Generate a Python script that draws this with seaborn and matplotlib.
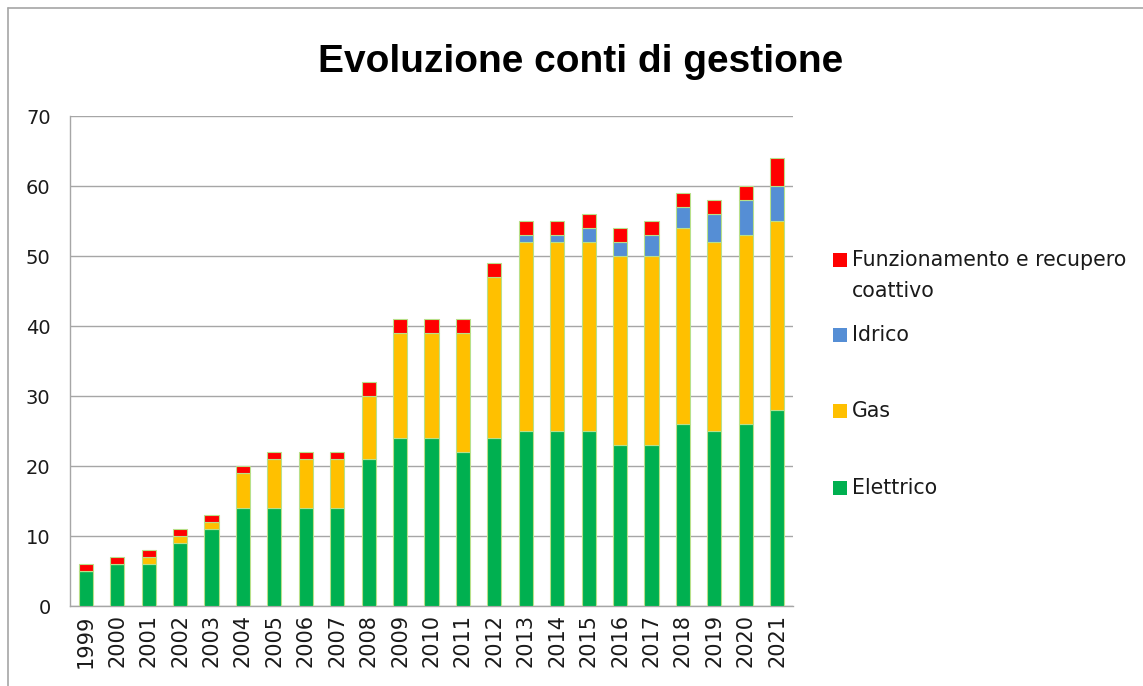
import matplotlib
matplotlib.use("Agg")
import matplotlib.pyplot as plt
import matplotlib.patches as mpatches
import numpy as np
import pandas as pd
import seaborn as sns

# data
years = [str(y) for y in range(1999, 2022)]
elettrico = [5, 6, 6, 9, 11, 14, 14, 14, 14, 21, 24, 24, 22, 24, 25, 25, 25, 23, 23, 26, 25, 26, 28]
gas = [0, 0, 1, 1, 1, 5, 7, 7, 7, 9, 15, 15, 17, 23, 27, 27, 27, 27, 27, 28, 27, 27, 27]
idrico = [0, 0, 0, 0, 0, 0, 0, 0, 0, 0, 0, 0, 0, 0, 1, 1, 2, 2, 3, 3, 4, 5, 5]
funzionamento = [1, 1, 1, 1, 1, 1, 1, 1, 1, 2, 2, 2, 2, 2, 2, 2, 2, 2, 2, 2, 2, 2, 4]

series = ["Elettrico", "Gas", "Idrico", "Funzionamento e recupero coattivo"]
colors = ["#00B050", "#FFC000", "#558ED5", "#FF0000"]

df = pd.DataFrame({"anno": years, "Elettrico": elettrico, "Gas": gas,
                   "Idrico": idrico, "Funzionamento e recupero coattivo": funzionamento})

sns.set_style("white")
plt.rcParams["font.family"] = ["DejaVu Sans"]
plt.rcParams["text.color"] = "#1a1a1a"
plt.rcParams["xtick.color"] = "#1a1a1a"
plt.rcParams["ytick.color"] = "#1a1a1a"

W, H = 1143, 686
fig = plt.figure(figsize=(W / 100, H / 100), dpi=100)
ax = fig.add_axes([70 / W, 1 - 606 / H, (793 - 70) / W, (606 - 116) / H])

bottom = np.zeros(len(years))
for name, color in zip(series, colors):
    sns.barplot(data=df, x="anno", y=name, color=color, bottom=bottom, width=0.45,
                ax=ax, edgecolor="#B8E08A", linewidth=0.8, zorder=3, saturation=1)
    bottom += df[name].values

ax.set_ylim(0, 70)
ax.set_xlim(-0.5, len(years) - 0.5)
ax.set_yticks(range(0, 71, 10))
ax.set_xlabel("")
ax.set_ylabel("")
ax.yaxis.grid(True, color="#A6A6A6", linewidth=1, zorder=0)
ax.xaxis.grid(False)
for s in ["top", "right"]:
    ax.spines[s].set_visible(False)
for s in ["left", "bottom"]:
    ax.spines[s].set_color("#A6A6A6")
    ax.spines[s].set_linewidth(1)

# Excel-style ticks between categories
ax.set_xticks(np.arange(-0.5, len(years), 1), minor=True)
ax.tick_params(axis="x", which="major", length=0, labelsize=15, rotation=90, pad=6)
ax.tick_params(axis="x", which="minor", length=7, color="#A6A6A6", direction="out")
ax.tick_params(axis="y", length=6, color="#A6A6A6", direction="out", labelsize=14, pad=8)

fig.text(0.508, 0.91, "Evoluzione conti di gestione", ha="center", va="center",
         fontsize=28, fontweight="bold", family="Liberation Sans", color="black")

# legend laid out like the Excel one (top entry wraps onto two lines)
legend_rows = [("Funzionamento e recupero", "#FF0000", 260),
               ("Idrico", "#558ED5", 335),
               ("Gas", "#FFC000", 411),
               ("Elettrico", "#00B050", 488)]
for label, color, y in legend_rows:
    fig.add_artist(mpatches.Rectangle((833 / W, 1 - (y + 7) / H), 14 / W, 14 / H,
                                      facecolor=color, edgecolor="none", transform=fig.transFigure))
    fig.text(852 / W, 1 - y / H, label, ha="left", va="center", fontsize=14.8)
fig.text(852 / W, 1 - 291 / H, "coattivo", ha="left", va="center", fontsize=14.8)

# chart border like the screenshot
fig.add_artist(plt.Line2D([8 / W, 8 / W], [0, 1 - 8 / H], color="#A6A6A6", lw=1.2))
fig.add_artist(plt.Line2D([8 / W, 1], [1 - 8 / H, 1 - 8 / H], color="#A6A6A6", lw=1.2))

fig.savefig("out.png", dpi=100)
plt.close()
